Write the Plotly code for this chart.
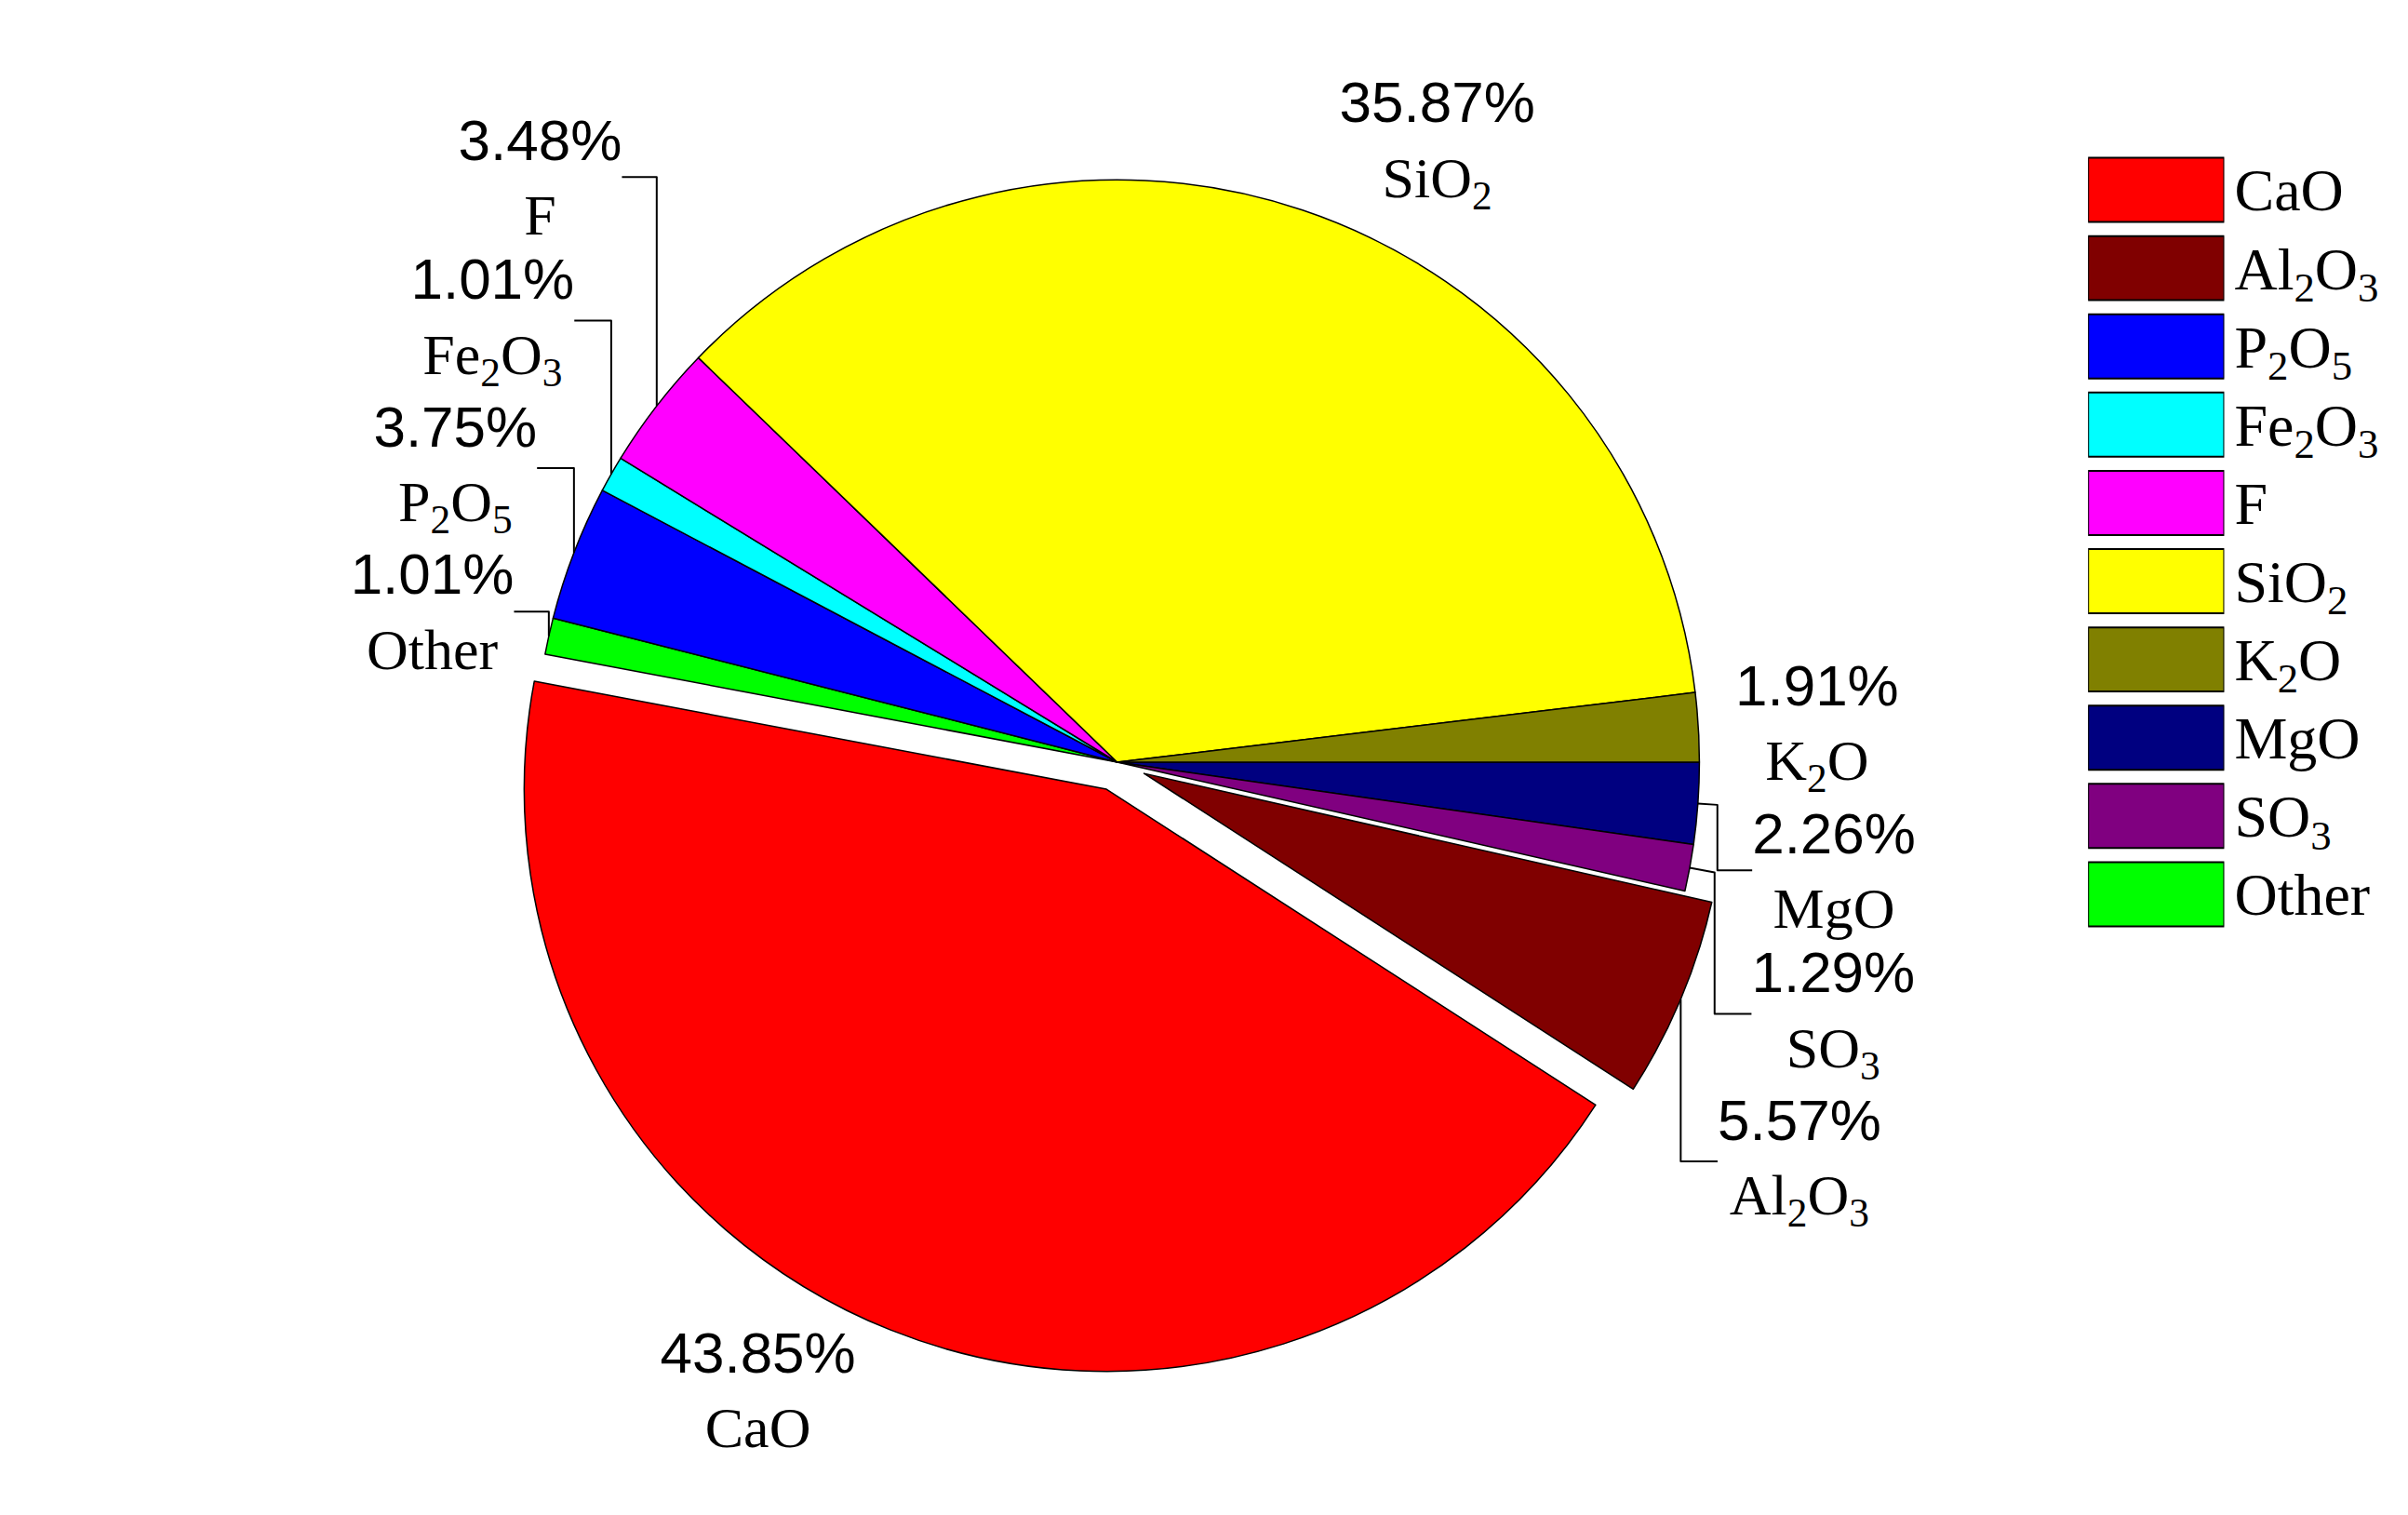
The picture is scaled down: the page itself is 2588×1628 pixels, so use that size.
import plotly.graph_objects as go

# slice order, clockwise from 3 o'clock
labels = ["MgO", "SO<sub>3</sub>", "Al<sub>2</sub>O<sub>3</sub>", "CaO", "Other",
          "P<sub>2</sub>O<sub>5</sub>", "Fe<sub>2</sub>O<sub>3</sub>", "F",
          "SiO<sub>2</sub>", "K<sub>2</sub>O"]
values = [2.26, 1.29, 5.57, 43.85, 1.01, 3.75, 1.01, 3.48, 35.87, 1.91]
colors = ["#000080", "#800080", "#800000", "#FF0000", "#00FF00",
          "#0000FF", "#00FFFF", "#FF00FF", "#FFFF00", "#808000"]
pulls = [0, 0, 0.05, 0.05, 0, 0, 0, 0, 0, 0]

legend_order = ["CaO", "Al<sub>2</sub>O<sub>3</sub>", "P<sub>2</sub>O<sub>5</sub>",
                "Fe<sub>2</sub>O<sub>3</sub>", "F", "SiO<sub>2</sub>", "K<sub>2</sub>O",
                "MgO", "SO<sub>3</sub>", "Other"]

texts = [f"{v:.2f}%<br><span style='font-family:Liberation Serif'>{l}</span>"
         for l, v in zip(labels, values)]

fig = go.Figure()
fig.add_trace(go.Pie(
    labels=labels, values=values, sort=False, direction="clockwise", rotation=90,
    marker=dict(colors=colors, line=dict(color="black", width=1.5)),
    pull=pulls, text=texts, textinfo="text", textposition="outside",
    textfont=dict(family="Liberation Sans", size=62, color="black"),
    showlegend=False, domain=dict(x=[0.0, 0.74], y=[0.0, 1.0]),
))
cmap = dict(zip(labels, colors))
leg_y = legend_order[::-1]
fig.add_trace(go.Bar(
    x=[1] * len(leg_y), y=leg_y, orientation="h", xaxis="x2", yaxis="y2",
    marker=dict(color=[cmap[l] for l in leg_y], line=dict(color="black", width=2)),
    width=0.82, showlegend=False, hoverinfo="skip",
))
fig.update_layout(
    width=2588, height=1628, paper_bgcolor="white", plot_bgcolor="white",
    margin=dict(l=20, r=20, t=10, b=20),
    xaxis2=dict(domain=[0.848, 0.915], range=[0, 1], visible=False, fixedrange=True),
    yaxis2=dict(domain=[0.36, 1.0], anchor="x2", side="right", showline=False,
                showgrid=False, ticks="", ticklabelstandoff=10, automargin=False,
                range=[-0.5, 9.5], tickmode="array", tickvals=leg_y, ticktext=leg_y,
                tickfont=dict(family="Liberation Serif", size=64, color="black")),
)
fig.write_html("out.html")
